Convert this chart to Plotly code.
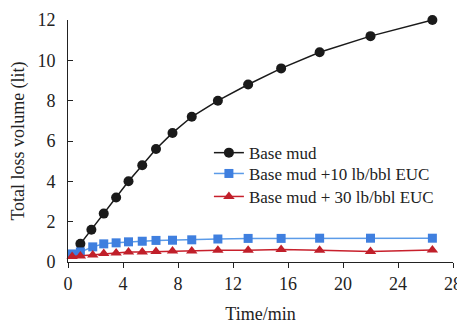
import plotly.graph_objects as go

# Data
time_base = [0.9, 1.7, 2.6, 3.5, 4.4, 5.4, 6.4, 7.6, 9.0, 10.9, 13.1, 15.5, 18.3, 22.0, 26.5]
vol_base = [0.9, 1.6, 2.4, 3.2, 4.0, 4.8, 5.6, 6.4, 7.2, 8.0, 8.8, 9.6, 10.4, 11.2, 12.0]

time_euc = [0.3, 0.9, 1.8, 2.6, 3.5, 4.4, 5.4, 6.4, 7.6, 9.0, 10.9, 13.1, 15.5, 18.3, 22.0, 26.5]
vol_euc10 = [0.4, 0.5, 0.75, 0.9, 0.95, 1.0, 1.03, 1.07, 1.08, 1.1, 1.14, 1.17, 1.17, 1.18, 1.18, 1.18]
vol_euc30 = [0.27, 0.3, 0.35, 0.42, 0.45, 0.5, 0.5, 0.52, 0.55, 0.55, 0.58, 0.58, 0.62, 0.58, 0.52, 0.6]

names = ["Base mud", "Base mud +10 lb/bbl EUC", "Base mud + 30 lb/bbl EUC"]
x_ticks = [0, 4, 8, 12, 16, 20, 24, 28]
y_ticks = [0, 2, 4, 6, 8, 10, 12]

FONT = "Liberation Serif"
TXT = "#222222"

fig = go.Figure()
fig.add_trace(go.Scatter(
    x=time_base, y=vol_base, name=names[0], mode="lines+markers",
    line=dict(color="#1a1a1a", width=1.5),
    marker=dict(symbol="circle", size=10, color="#1a1a1a"),
    cliponaxis=False, legend="legend",
))
fig.add_trace(go.Scatter(
    x=time_euc, y=vol_euc10, name=names[1], mode="lines+markers",
    line=dict(color="#5b9be8", width=1.5),
    marker=dict(symbol="square", size=9, color="#3f7fdf"),
    cliponaxis=False, legend="legend2",
))
fig.add_trace(go.Scatter(
    x=time_euc, y=vol_euc30, name=names[2], mode="lines+markers",
    line=dict(color="#c8202c", width=1.5),
    marker=dict(symbol="triangle-up", size=10, color="#c01f2a"),
    cliponaxis=False, legend="legend3",
))

def leg(y):
    return dict(
        x=0.366, y=y, xanchor="left", yanchor="middle",
        bgcolor="rgba(0,0,0,0)", font=dict(family=FONT, size=17, color=TXT),
        itemwidth=30,
    )

fig.update_layout(
    width=457, height=316,
    margin=dict(l=60, r=12, t=12, b=62, autoexpand=False),
    paper_bgcolor="white", plot_bgcolor="white",
    font=dict(family=FONT, size=18, color=TXT),
    showlegend=True,
    legend=leg(0.450),
    legend2=leg(0.364),
    legend3=leg(0.269),
    xaxis=dict(
        range=[0, 28], tickvals=x_ticks, ticktext=[str(v) for v in x_ticks],
        showgrid=False, zeroline=False, showline=True, linecolor=TXT, linewidth=1,
        ticks="outside", ticklen=5, tickcolor=TXT, automargin=False,
        title=dict(text="Time/min", standoff=14, font=dict(family=FONT, size=18)),
        tickfont=dict(family=FONT, size=18),
    ),
    yaxis=dict(
        range=[0, 12], tickvals=y_ticks, ticktext=[str(v) for v in y_ticks],
        showgrid=False, zeroline=False, showline=True, linecolor=TXT, linewidth=1,
        ticks="inside", ticklen=5, tickcolor=TXT, automargin=False,
        title=dict(text="Total loss volume (lit)", standoff=12, font=dict(family=FONT, size=18)),
        tickfont=dict(family=FONT, size=18),
        ticklabelstandoff=8,
    ),
)

fig.write_html("out.html")
